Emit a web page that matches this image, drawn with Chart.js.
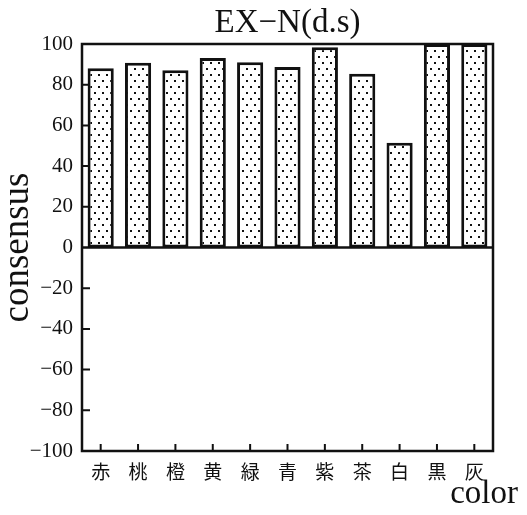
<!DOCTYPE html>
<html>
<head>
<meta charset="utf-8">
<script src="https://cdn.jsdelivr.net/npm/chart.js@4.4.1/dist/chart.umd.min.js"></script>
<style>
  html, body { margin: 0; padding: 0; background: #ffffff; }
  #wrap { width: 527px; height: 515px; }
</style>
</head>
<body>
<div id="wrap"><canvas id="c" width="527" height="515"></canvas></div>
<script>
// Colour names on the category axis
const colors = ['赤', '桃', '橙', '黄', '緑', '青', '紫', '茶', '白', '黒', '灰'];
// Consensus score for each colour
const consensus = [88.1, 90.8, 87.1, 93.1, 91.0, 88.7, 98.4, 85.4, 51.5, 100, 100];
// Value axis tick marks
const yTicks = [-100, -80, -60, -40, -20, 0, 20, 40, 60, 80, 100];

const titleText = 'EX\u2212N(d.s)';
const yTitle = 'consensus';
const xTitle = 'color';

const SERIF = '"Liberation Serif", "Times New Roman", serif';
const CJK = '"Noto Sans CJK JP", "Noto Sans CJK SC", sans-serif';

// Dotted fill for the bars
function dotPattern() {
  const p = document.createElement('canvas');
  p.width = 8; p.height = 12;
  const g = p.getContext('2d');
  g.fillStyle = '#ffffff';
  g.fillRect(0, 0, 8, 12);
  g.fillStyle = '#111111';
  g.fillRect(2, 2, 2, 2);
  g.fillRect(6, 8, 2, 2);
  return document.getElementById('c').getContext('2d').createPattern(p, 'repeat');
}

// Frame, zero line, inward tick marks and the x-axis title
const decorations = {
  id: 'decorations',
  afterDatasetsDraw(chart) {
    const { ctx, chartArea: a, scales: { x, y } } = chart;
    ctx.save();
    ctx.strokeStyle = '#111111';
    ctx.lineWidth = 2.5;
    // zero line
    const y0 = y.getPixelForValue(0);
    ctx.beginPath();
    ctx.moveTo(a.left, y0);
    ctx.lineTo(a.right, y0);
    ctx.stroke();
    // y ticks pointing inward
    ctx.lineWidth = 2;
    ctx.beginPath();
    yTicks.forEach(v => {
      if (v === 0 || v === 100 || v === -100) return;
      const py = y.getPixelForValue(v);
      ctx.moveTo(a.left, py);
      ctx.lineTo(a.left + 8, py);
    });
    // x ticks pointing upward from the bottom edge
    colors.forEach((c, i) => {
      const px = x.getPixelForValue(i);
      ctx.moveTo(px, a.bottom);
      ctx.lineTo(px, a.bottom - 7);
    });
    ctx.stroke();
    // frame
    ctx.lineWidth = 2.5;
    ctx.strokeRect(a.left, a.top, a.right - a.left, a.bottom - a.top);
    // x-axis title at the lower right
    ctx.fillStyle = '#111111';
    ctx.font = '33px ' + SERIF;
    ctx.textAlign = 'right';
    ctx.textBaseline = 'alphabetic';
    ctx.fillText(xTitle, 518, 503);
    ctx.restore();
  }
};

new Chart(document.getElementById('c'), {
  type: 'bar',
  data: {
    labels: colors,
    datasets: [{
      data: consensus,
      backgroundColor: dotPattern(),
      borderColor: '#111111',
      borderWidth: 3,
      borderSkipped: false,
      categoryPercentage: 1.0,
      barPercentage: 0.7
    }]
  },
  options: {
    responsive: false,
    animation: false,
    layout: { padding: { left: 0, right: 34, top: 0, bottom: 0 } },
    plugins: {
      legend: { display: false },
      tooltip: { enabled: false },
      title: {
        display: true,
        text: titleText,
        fullSize: false,
        color: '#111111',
        font: { family: SERIF, size: 33, weight: 'normal', lineHeight: 1.0 },
        padding: { top: 7, bottom: 4 }
      }
    },
    scales: {
      x: {
        grid: { display: false, drawTicks: false },
        border: { display: false },
        ticks: {
          color: '#111111',
          padding: 9,
          maxRotation: 0,
          font: { family: CJK, size: 19 }
        },
        afterFit(scale) { scale.height = 64; }
      },
      y: {
        min: -100,
        max: 100,
        afterBuildTicks(scale) { scale.ticks = yTicks.map(v => ({ value: v })); },
        grid: { display: false, drawTicks: false },
        border: { display: false },
        ticks: {
          color: '#111111',
          padding: 9,
          font: { family: SERIF, size: 21 },
          callback: v => (v < 0 ? '\u2212' + Math.abs(v) : String(v))
        },
        title: {
          display: true,
          text: yTitle,
          color: '#111111',
          font: { family: SERIF, size: 37, lineHeight: 1.0 },
          padding: { top: 0, bottom: 0 }
        },
        afterFit(scale) { scale.width = 82; }
      }
    }
  },
  plugins: [decorations]
});
</script>
</body>
</html>
